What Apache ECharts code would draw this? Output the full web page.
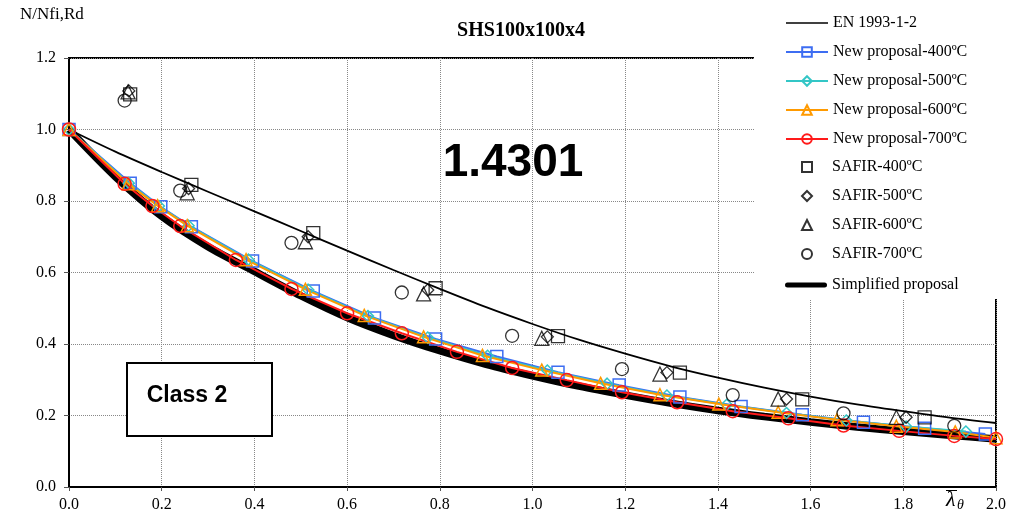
<!DOCTYPE html>
<html>
<head>
<meta charset="utf-8">
<script src="https://cdn.jsdelivr.net/npm/echarts@6/dist/echarts.min.js"></script>
<style>
  html, body { margin: 0; padding: 0; background: #fff; }
  #chart { width: 1017px; height: 518px; }
</style>
</head>
<body>
<div id="chart"></div>
<script>
// EN 1993-1-2 curve
const enX = [0, 0.1, 0.2, 0.3, 0.4, 0.5, 0.6, 0.7, 0.8, 0.9, 1.0, 1.1, 1.2, 1.3, 1.4, 1.5, 1.6, 1.7, 1.8, 1.9, 2.0];
const enY = [1.0, 0.938, 0.881, 0.826, 0.771, 0.716, 0.661, 0.607, 0.554, 0.503, 0.456, 0.412, 0.373, 0.337, 0.306, 0.278, 0.253, 0.231, 0.212, 0.194, 0.179];

// new proposal curves (each temperature has its own slenderness steps)
const np400X = [0, 0.132, 0.198, 0.264, 0.396, 0.527, 0.659, 0.791, 0.923, 1.055, 1.187, 1.318, 1.45, 1.582, 1.714, 1.846, 1.977];
const np400Y = [1.0, 0.850, 0.784, 0.728, 0.632, 0.548, 0.473, 0.414, 0.365, 0.321, 0.285, 0.252, 0.225, 0.202, 0.181, 0.164, 0.148];
const np500X = [0, 0.129, 0.194, 0.258, 0.387, 0.516, 0.645, 0.774, 0.903, 1.032, 1.161, 1.29, 1.419, 1.548, 1.677, 1.806, 1.935];
const np500Y = [1.0, 0.850, 0.786, 0.731, 0.636, 0.552, 0.478, 0.418, 0.367, 0.326, 0.289, 0.256, 0.230, 0.207, 0.186, 0.169, 0.155];
const np600X = [0, 0.1275, 0.191, 0.255, 0.382, 0.51, 0.637, 0.765, 0.892, 1.02, 1.147, 1.275, 1.402, 1.53, 1.657, 1.785, 1.912, 2.0];
const np600Y = [1.0, 0.848, 0.787, 0.731, 0.636, 0.553, 0.480, 0.420, 0.368, 0.327, 0.290, 0.258, 0.232, 0.209, 0.188, 0.170, 0.154, 0.138];
const np700X = [0, 0.12, 0.18, 0.24, 0.36, 0.48, 0.6, 0.718, 0.837, 0.956, 1.074, 1.193, 1.312, 1.432, 1.552, 1.671, 1.791, 1.91, 2.0];
const np700Y = [1.0, 0.848, 0.786, 0.730, 0.635, 0.554, 0.486, 0.430, 0.378, 0.333, 0.299, 0.265, 0.237, 0.212, 0.192, 0.172, 0.157, 0.143, 0.134];

// SAFIR results
const saf400X = [0.132, 0.264, 0.527, 0.791, 1.055, 1.318, 1.582, 1.846];
const saf400Y = [1.098, 0.845, 0.710, 0.556, 0.422, 0.320, 0.245, 0.195];
const saf500X = [0.129, 0.258, 0.516, 0.774, 1.032, 1.29, 1.548, 1.806];
const saf500Y = [1.108, 0.835, 0.700, 0.551, 0.420, 0.320, 0.246, 0.195];
const saf600X = [0.1275, 0.255, 0.51, 0.765, 1.02, 1.275, 1.53, 1.785];
const saf600Y = [1.105, 0.823, 0.686, 0.540, 0.416, 0.316, 0.246, 0.195];
const saf700X = [0.12, 0.24, 0.48, 0.718, 0.956, 1.193, 1.432, 1.671, 1.91];
const saf700Y = [1.081, 0.829, 0.683, 0.544, 0.423, 0.330, 0.257, 0.206, 0.171];

// simplified proposal
const simpX = [0, 0.1, 0.2, 0.3, 0.4, 0.5, 0.6, 0.7, 0.8, 0.9, 1.0, 1.1, 1.2, 1.3, 1.4, 1.5, 1.6, 1.7, 1.8, 1.9, 2.0];
const simpY = [1.0, 0.868, 0.757, 0.672, 0.603, 0.535, 0.474, 0.424, 0.381, 0.343, 0.311, 0.282, 0.257, 0.234, 0.214, 0.197, 0.182, 0.168, 0.156, 0.145, 0.134];

const xTicks = [0, 0.2, 0.4, 0.6, 0.8, 1.0, 1.2, 1.4, 1.6, 1.8, 2.0];
const yTicks = [0, 0.2, 0.4, 0.6, 0.8, 1.0, 1.2];

const pairs = (xs, ys) => xs.map((x, i) => [x, ys[i]]);
const serif = "'Liberation Serif', 'DejaVu Serif', serif";
const hollow = "rgba(0,0,0,0)";
const legendText = { fontFamily: serif, fontSize: 16, lineHeight: 16, color: "#000" };

const chart = echarts.init(document.getElementById("chart"));

const proposal = (name, xs, ys, color, symbol, size) => ({
  name: name,
  type: "line",
  data: pairs(xs, ys),
  symbol: symbol,
  symbolSize: size,
  showAllSymbol: true,
  lineStyle: { color: color, width: 2 },
  itemStyle: { color: hollow, borderColor: color, borderWidth: 1.5 },
  z: 3
});

const safir = (name, xs, ys, symbol, size) => ({
  name: name,
  type: "scatter",
  data: pairs(xs, ys),
  symbol: symbol,
  symbolSize: size,
  itemStyle: { color: hollow, borderColor: "#000", borderWidth: 1.3 },
  z: 4
});

chart.setOption({
  animation: false,
  grid: {
    left: 69, right: 21, top: 58, bottom: 31,
    show: true, borderColor: "#000", borderWidth: 2
  },
  title: {
    text: "SHS100x100x4",
    left: 516, top: 16, textAlign: "center",
    textStyle: { fontFamily: serif, fontSize: 20, fontWeight: "bold", color: "#000" }
  },
  legend: [
    {
      orient: "vertical", left: 780, top: 10,
      itemWidth: 42, itemHeight: 12, itemGap: 13, z: 20,
      textStyle: legendText,
      data: [
        { name: "EN 1993-1-2", icon: "path://M0,0H42V1.6H0Z" },
        "New proposal-400ºC", "New proposal-500ºC", "New proposal-600ºC", "New proposal-700ºC"
      ]
    },
    {
      orient: "vertical", left: 796, top: 154,
      itemWidth: 10, itemHeight: 10, itemGap: 13, z: 20,
      textStyle: Object.assign({ padding: [0, 0, 0, 15] }, legendText),
      data: ["SAFIR-400ºC", "SAFIR-500ºC", "SAFIR-600ºC", "SAFIR-700ºC"]
    },
    {
      orient: "vertical", left: 780, top: 272,
      itemWidth: 42, itemHeight: 12, z: 20,
      textStyle: legendText,
      data: [{ name: "Simplified proposal", icon: "path://M2.5,0H39.5A2.5,2.5,0,0,1,39.5,5H2.5A2.5,2.5,0,0,1,2.5,0Z" }]
    }
  ],
  xAxis: {
    type: "value", min: 0, max: 2, interval: 0.2,
    axisLine: { lineStyle: { color: "#000", width: 2 } },
    axisTick: { show: true, length: 4, lineStyle: { color: "#555" } },
    axisLabel: {
      fontFamily: serif, fontSize: 16, color: "#000", margin: 10,
      formatter: v => v.toFixed(1),
      customValues: xTicks
    },
    splitLine: { show: true, lineStyle: { color: "#888", type: [1, 1], width: 1 } }
  },
  yAxis: {
    type: "value", min: 0, max: 1.2, interval: 0.2,
    axisLine: { show: true, lineStyle: { color: "#000", width: 2 } },
    axisTick: { show: true, length: 5, lineStyle: { color: "#555" } },
    axisLabel: {
      fontFamily: serif, fontSize: 16, color: "#000", margin: 13,
      formatter: v => v.toFixed(1),
      customValues: yTicks
    },
    splitLine: { show: true, lineStyle: { color: "#888", type: [1, 1], width: 1 } }
  },
  series: [
    {
      name: "Simplified proposal",
      type: "line",
      data: pairs(simpX, simpY),
      symbol: "none",
      smooth: 0.3,
      lineStyle: { color: "#000", width: 7.5 },
      itemStyle: { color: "#000" },
      z: 2
    },
    {
      name: "EN 1993-1-2",
      type: "line",
      data: pairs(enX, enY),
      symbol: "none",
      smooth: 0.3,
      lineStyle: { color: "#000", width: 1.8 },
      itemStyle: { color: "#000" },
      z: 2
    },
    proposal("New proposal-400ºC", np400X, np400Y, "#3d6df2", "rect", 12),
    proposal("New proposal-500ºC", np500X, np500Y, "#33c6c6", "diamond", 11),
    proposal("New proposal-600ºC", np600X, np600Y, "#ff9a00", "triangle", 12),
    proposal("New proposal-700ºC", np700X, np700Y, "#ff1a1a", "circle", 13),
    safir("SAFIR-400ºC", saf400X, saf400Y, "rect", 13),
    safir("SAFIR-500ºC", saf500X, saf500Y, "diamond", 12),
    safir("SAFIR-600ºC", saf600X, saf600Y, "triangle", 14),
    safir("SAFIR-700ºC", saf700X, saf700Y, "circle", 13)
  ],
  graphic: [
    // white area behind the legend, covering the plot corner
    { type: "rect", z: 10, shape: { x: 754, y: 0, width: 263, height: 299 }, style: { fill: "#fff" } },
    { type: "text", z: 10, left: 20, top: 6,
      style: { text: "N/Nfi,Rd", font: "17px " + serif, fill: "#000" } },
    { type: "text", z: 10, x: 513, y: 163,
      style: { text: "1.4301", font: "bold 46px 'Liberation Sans', Arial, sans-serif", fill: "#000",
               textAlign: "center", textVerticalAlign: "middle" } },
    { type: "rect", z: 10, shape: { x: 127, y: 363, width: 145, height: 73 },
      style: { fill: "#fff", stroke: "#000", lineWidth: 2 } },
    { type: "text", z: 11, x: 187, y: 396,
      style: { text: "Class 2", font: "bold 23px 'Liberation Sans', Arial, sans-serif", fill: "#000",
               textAlign: "center", textVerticalAlign: "middle" } },
    // axis symbol: lambda-bar with theta subscript
    { type: "text", z: 10, x: 946, y: 500,
      style: { text: "λ", font: "italic 22px " + serif, fill: "#000", textVerticalAlign: "middle" } },
    { type: "text", z: 10, x: 957, y: 505,
      style: { text: "θ", font: "italic 14px " + serif, fill: "#000", textVerticalAlign: "middle" } },
    { type: "line", z: 10, shape: { x1: 946, y1: 490.5, x2: 957, y2: 490.5 }, style: { stroke: "#000", lineWidth: 1 } }
  ]
});
</script>
</body>
</html>
